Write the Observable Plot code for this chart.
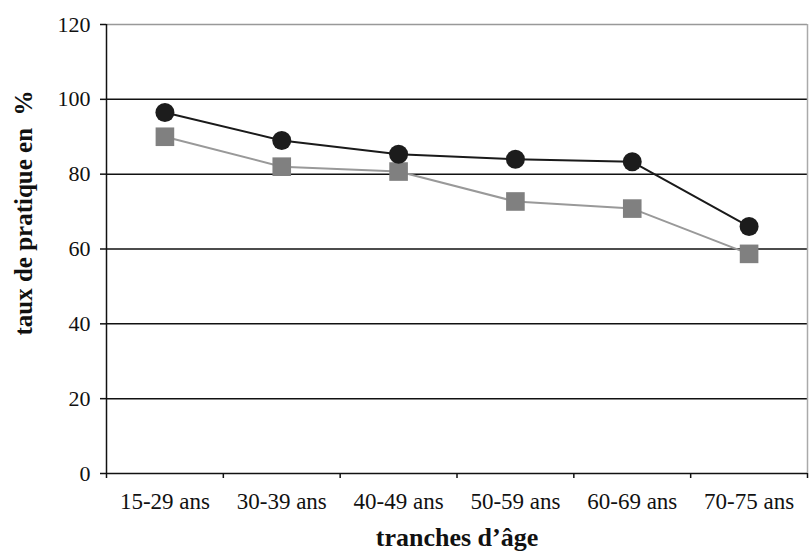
<!DOCTYPE html>
<html><head><meta charset="utf-8">
<script src="https://cdn.jsdelivr.net/npm/d3@7"></script>
<script src="https://cdn.jsdelivr.net/npm/@observablehq/plot@0.6"></script>
<style>body{margin:0;background:#fff} svg{display:block} svg text{font-family:'Liberation Serif','Times New Roman',serif}</style>
</head><body><div id="chart"></div>
<script>
const categories = ["15-29 ans","30-39 ans","40-49 ans","50-59 ans","60-69 ans","70-75 ans"];
const seriesCircle = [96.5, 89, 85.3, 84, 83.3, 66];
const seriesSquare = [90, 82, 80.7, 72.7, 70.8, 58.7];
const yTicks = [0, 20, 40, 60, 80, 100, 120];
const gridValues = [20, 40, 60, 80, 100];
const xTitle = "tranches d\u2019âge";
const yTitle = "taux de pratique en  %";

const idx = categories.map((c, i) => i);
const bounds = categories.map((c, i) => i - 0.5).concat([categories.length - 0.5]);
const rowsC = idx.map(i => ({i, v: seriesCircle[i]}));
const rowsS = idx.map(i => ({i, v: seriesSquare[i]}));

const font = "'Liberation Serif', 'Times New Roman', serif";

const chart = Plot.plot({
  width: 809,
  height: 553,
  marginTop: 24,
  marginBottom: 80,
  marginLeft: 106,
  marginRight: 2,
  style: {fontFamily: font, fontSize: "22px", background: "#fff", color: "#111"},
  x: {type: "linear", domain: [-0.5, categories.length - 0.5], axis: null},
  y: {domain: [0, 120], axis: null},
  marks: [
    Plot.ruleY(gridValues, {stroke: "#111", strokeWidth: 1.5}),
    Plot.ruleY([120], {stroke: "#999", strokeWidth: 1.5}),
    Plot.ruleX([categories.length - 0.5], {stroke: "#aaa", strokeWidth: 1.5}),
    Plot.axisY({ticks: yTicks, tickSize: 6, tickPadding: 10, tickFormat: d => String(d), fontSize: 22, fontFamily: font, fontVariant: "normal", fill: "#111", stroke: "#111", strokeWidth: 1.5, label: null}),
    Plot.axisX({ticks: bounds, tickSize: 5, tickFormat: () => "", stroke: "#111", strokeWidth: 1.5, label: null}),
    Plot.axisX({ticks: idx, tickSize: 0, tickPadding: 19, tickFormat: i => categories[i], fontSize: 23, fontFamily: font, fontVariant: "normal", fill: "#111", label: null}),
    Plot.ruleX([-0.5], {stroke: "#111", strokeWidth: 1.5}),
    Plot.ruleY([0], {stroke: "#111", strokeWidth: 1.5}),
    Plot.line(rowsS, {x: "i", y: "v", stroke: "#999", strokeWidth: 2}),
    Plot.line(rowsC, {x: "i", y: "v", stroke: "#1a1a1a", strokeWidth: 2}),
    Plot.dot(rowsS, {x: "i", y: "v", symbol: "square", r: 10.5, fill: "#808080", stroke: "none"}),
    Plot.dot(rowsC, {x: "i", y: "v", symbol: "circle", r: 9.5, fill: "#1c1c1c", stroke: "none"}),
    Plot.text([yTitle], {frameAnchor: "left", textAnchor: "middle", lineAnchor: "middle", dx: -83, dy: -36, rotate: -90, fontSize: 25, fontWeight: "bold", fill: "#111"}),
    Plot.text([xTitle], {frameAnchor: "bottom", textAnchor: "middle", lineAnchor: "middle", dy: 64, fontSize: 26, fontWeight: "bold", fill: "#111"})
  ]
});
document.getElementById("chart").appendChild(chart);
</script>
</body></html>
